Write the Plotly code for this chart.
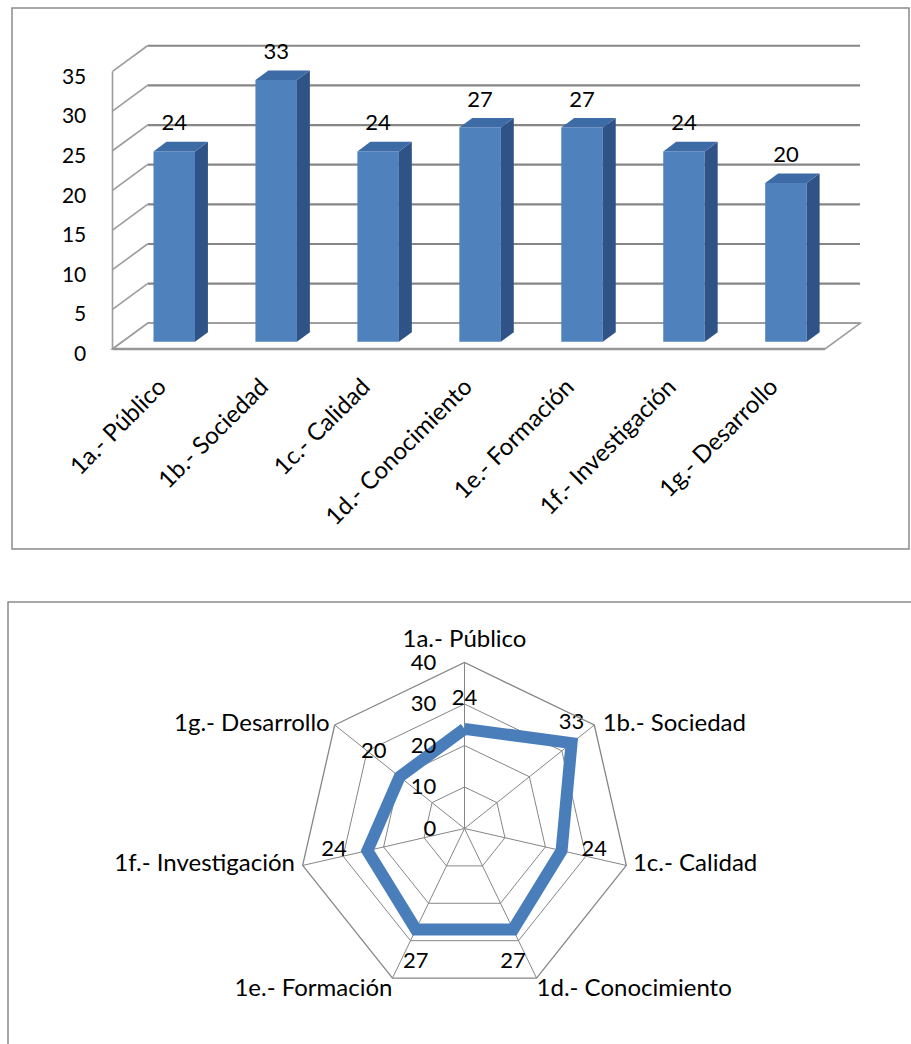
import plotly.graph_objects as go

# ---- data ---------------------------------------------------------------
categories = ["1a.- Público", "1b.- Sociedad", "1c.- Calidad", "1d.- Conocimiento",
              "1e.- Formación", "1f.- Investigación", "1g.- Desarrollo"]
values = [24, 33, 24, 27, 27, 24, 20]
bar_ticks = [0, 5, 10, 15, 20, 25, 30, 35]
radar_ticks = [0, 10, 20, 30, 40]

# label placement on the radar (position keyword + spacer size per point)
value_label_pos = ["top center", "top center", "middle right", "bottom center",
                   "bottom center", "middle left", "top left"]
value_label_pad = [27.5, 12.8, 30.4, 33.6, 33.6, 31.5, 19.2]
cat_label_pos = ["top center", "middle right", "middle right", "bottom right",
                 "bottom left", "middle left", "middle left"]
cat_label_pad = [13.9, 11.8, 9.0, 0, 0, 10.7, 6.4]

# ---- page / projection constants ----------------------------------------
W, H = 911, 1044
PITCH = 101.95          # px per category on the helper x axis
UNIT = 7.93             # px per value unit on the helper y axis
X0_PX, Y0_PX = 164.3, 349.0   # pixel position of (category 0, value 0) on the front plane
DEPTH_X = 35.0 / PITCH  # oblique depth offset (front -> back wall)
DEPTH_Y = 25.7 / UNIT
BAR_Z, BAR_DZ = 0.284, 0.37   # bar position / thickness inside the depth
BAR_W = 0.407
FLOOR_L, FLOOR_R = -0.508, len(categories) - 0.519
Y_MAX = bar_ticks[-1]
XLABEL_DROP_PX = 18     # category labels sit a little below the floor edge
XLABEL_SHIFT = -0.05
YLABEL_DROP = 0.6

FONT = "Lato, Carlito, Calibri, sans-serif"
GRID = "#868686"
WALL = "#9C9C9C"
BLUE = "#4F81BD"
BLUE_TOP = "#3D6BA6"
BLUE_SIDE = "#2F5387"
LINE_BLUE = "#4A7EBB"

fig = go.Figure()
shapes = []

# back wall gridlines and left wall
for t in bar_ticks:
    shapes.append(dict(type="line", xref="x", yref="y", layer="below",
                       x0=FLOOR_L + DEPTH_X, y0=t + DEPTH_Y,
                       x1=FLOOR_R + DEPTH_X, y1=t + DEPTH_Y,
                       line=dict(color=GRID, width=2.2)))
    shapes.append(dict(type="line", xref="x", yref="y", layer="below",
                       x0=FLOOR_L, y0=t, x1=FLOOR_L + DEPTH_X, y1=t + DEPTH_Y,
                       line=dict(color=WALL, width=1.6)))
shapes.append(dict(type="line", xref="x", yref="y", layer="below",
                   x0=FLOOR_L, y0=0, x1=FLOOR_L, y1=Y_MAX,
                   line=dict(color=WALL, width=1.6)))
# floor
shapes.append(dict(type="path", xref="x", yref="y", layer="below",
                   path=(f"M{FLOOR_L},0 L{FLOOR_R},0 L{FLOOR_R + DEPTH_X},{DEPTH_Y} "
                         f"L{FLOOR_L + DEPTH_X},{DEPTH_Y} Z"),
                   fillcolor="white", line=dict(color=WALL, width=1.6)))
shapes.append(dict(type="line", xref="x", yref="y", layer="below",
                   x0=FLOOR_L, y0=0, x1=FLOOR_R, y1=0,
                   line=dict(color="#979797", width=2.6)))

# chart frames
shapes.append(dict(type="rect", xref="paper", yref="paper",
                   x0=12 / W, x1=909 / W, y0=1 - 549 / H, y1=1 - 8 / H,
                   line=dict(color="#8A8A8A", width=1.5)))
shapes.append(dict(type="rect", xref="paper", yref="paper",
                   x0=8 / W, x1=1.02, y0=-0.02, y1=1 - 602 / H,
                   line=dict(color="#8A8A8A", width=1.5)))

# front faces of the columns
bar_x = [i + BAR_Z * DEPTH_X for i in range(len(categories))]
base = BAR_Z * DEPTH_Y
fig.add_trace(go.Bar(x=bar_x, y=values, base=base, width=BAR_W,
                     marker=dict(color=BLUE, line=dict(width=0)),
                     hoverinfo="skip", showlegend=False))

# side and top faces
dx, dy = BAR_DZ * DEPTH_X, BAR_DZ * DEPTH_Y
for xc, v in zip(bar_x, values):
    xl, xr = xc - BAR_W / 2, xc + BAR_W / 2
    top = base + v
    fig.add_trace(go.Scatter(
        x=[xr, xr + dx, xr + dx, xr, xr], y=[base, base + dy, top + dy, top, base],
        fill="toself", fillcolor=BLUE_SIDE, mode="lines", line=dict(width=0),
        hoverinfo="skip", showlegend=False))
    fig.add_trace(go.Scatter(
        x=[xl, xr, xr + dx, xl + dx, xl], y=[top, top, top + dy, top + dy, top],
        fill="toself", fillcolor=BLUE_TOP, mode="lines", line=dict(width=0),
        hoverinfo="skip", showlegend=False))

# value labels above the columns
fig.add_trace(go.Scatter(
    x=bar_x, y=[base + v + 26.5 / UNIT for v in values],
    mode="text", text=[str(v) for v in values], textposition="middle center",
    textfont=dict(family=FONT, size=22, color="black"),
    hoverinfo="skip", showlegend=False))

# ---- radar chart ----------------------------------------------------------
fig.add_trace(go.Scatterpolar(
    r=values + values[:1], theta=categories + categories[:1],
    mode="lines", line=dict(color=LINE_BLUE, width=12),
    hoverinfo="skip", showlegend=False))
fig.add_trace(go.Scatterpolar(
    r=values, theta=categories, mode="markers+text",
    marker=dict(size=value_label_pad, opacity=0), text=[str(v) for v in values],
    textposition=value_label_pos,
    textfont=dict(family=FONT, size=22, color="black"),
    hoverinfo="skip", showlegend=False))
# category names just outside the outer ring
fig.add_trace(go.Scatterpolar(
    r=[radar_ticks[-1]] * len(categories), theta=categories, mode="markers+text",
    marker=dict(size=cat_label_pad, opacity=0), text=categories,
    textposition=cat_label_pos,
    textfont=dict(family=FONT, size=24, color="black"),
    hoverinfo="skip", showlegend=False))

R_PX = 166
CX, CY = 464.5, 828.5

fig.update_layout(
    width=W, height=H, margin=dict(l=0, r=0, t=0, b=0),
    paper_bgcolor="white", plot_bgcolor="rgba(0,0,0,0)",
    showlegend=False, shapes=shapes,
    xaxis=dict(range=[-X0_PX / PITCH, (W - X0_PX) / PITCH], domain=[0, 1],
               showgrid=False, zeroline=False, showline=False,
               tickvals=[i + XLABEL_SHIFT for i in range(len(categories))],
               ticktext=categories, tickangle=-45, ticks="",
               tickfont=dict(family=FONT, size=24, color="black"),
               anchor="free", position=(H - Y0_PX - XLABEL_DROP_PX) / H),
    yaxis=dict(range=[(Y0_PX - H) / UNIT, Y0_PX / UNIT], domain=[0, 1],
               showgrid=False, zeroline=False, showline=False,
               tickvals=[t - YLABEL_DROP for t in bar_ticks],
               ticktext=[str(t) for t in bar_ticks],
               ticks="outside", ticklen=22, tickcolor="rgba(0,0,0,0)",
               tickfont=dict(family=FONT, size=21, color="black"),
               anchor="free", position=(X0_PX + FLOOR_L * PITCH) / W),
    polar=dict(
        domain=dict(x=[(CX - R_PX) / W, (CX + R_PX) / W],
                    y=[(H - CY - R_PX) / H, (H - CY + R_PX) / H]),
        gridshape="linear", bgcolor="rgba(0,0,0,0)",
        angularaxis=dict(rotation=90, direction="clockwise", type="category",
                         categoryarray=categories, showticklabels=False,
                         showline=True, linecolor=GRID, linewidth=1.3,
                         gridcolor=GRID, gridwidth=1.3, ticks=""),
        radialaxis=dict(range=[0, 40], tickvals=radar_ticks, angle=90,
                        side="counterclockwise", showline=False,
                        gridcolor=GRID, gridwidth=1.3,
                        ticks="outside", ticklen=20, tickcolor="rgba(0,0,0,0)",
                        tickangle=90,
                        tickfont=dict(family=FONT, size=22, color="black")),
    ),
)

fig.write_html("out.html")
